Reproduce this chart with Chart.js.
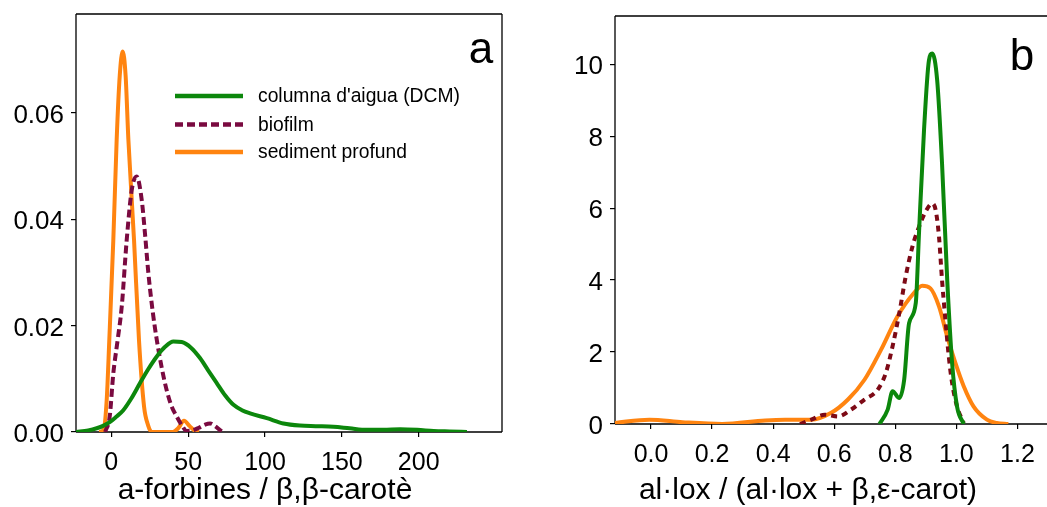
<!DOCTYPE html>
<html>
<head>
<meta charset="utf-8">
<script src="https://cdn.jsdelivr.net/npm/chart.js@4.4.1/dist/chart.umd.min.js"></script>
<style>
    html, body { margin: 0; padding: 0; background: #fff; overflow: hidden; }
    #wrap { position: relative; width: 1047px; height: 507px; }
    .panel { position: absolute; top: 0; height: 507px; }
    #panelA { left: 0; width: 520px; }
    #panelB { left: 520px; width: 527px; }
</style>
</head>
<body>
<div id="wrap">
    <div class="panel" id="panelA"><canvas id="chartA"></canvas></div>
    <div class="panel" id="panelB"><canvas id="chartB"></canvas></div>
</div>
<script>
const seriesLabels = ["columna d'aigua (DCM)", "biofilm", "sediment profund"];

// Panel a: a-forbines / b,b-carotene density
const aWaterX = [-23, -15, -9.5, -5, -0.8, 3, 7.8, 13, 18.7, 24, 29.6, 35, 40.4, 45.8, 52, 57.7, 63, 68.6, 74, 79.5, 85, 90.3, 101.2, 112, 122.8, 133, 144.5, 155, 166.2, 177, 188, 199, 209.7, 220, 231.4];
const aWaterY = [0, 0.0003, 0.0007, 0.0012, 0.0019, 0.0028, 0.0041, 0.0063, 0.0092, 0.0118, 0.0142, 0.016, 0.017, 0.0169, 0.0158, 0.0139, 0.0116, 0.0092, 0.0069, 0.0051, 0.0041, 0.0035, 0.0026, 0.0016, 0.0012, 0.0011, 0.001, 0.0007, 0.0004, 0.0004, 0.0005, 0.0004, 0.0002, 0.0001, 0];
const aBiofilmX = [-4, -1, 1.3, 4, 6.8, 10, 13.3, 16.5, 19.8, 22, 24.1, 27, 29.6, 33, 36, 39, 42.6, 46, 49, 53, 57, 61, 64.3, 68, 71, 73];
const aBiofilmY = [0, 0.003, 0.011, 0.017, 0.0236, 0.036, 0.0455, 0.048, 0.0436, 0.037, 0.0299, 0.0225, 0.0173, 0.0118, 0.0079, 0.005, 0.0029, 0.0012, 0.0002, 0.0003, 0.0008, 0.0014, 0.0016, 0.001, 0.0003, 0];
const aSedimentX = [-8, -5.2, -3, -1.3, 1.3, 3.5, 5.5, 7.4, 9.3, 11.1, 14.8, 18, 21.3, 24, 26.3, 40, 43.5, 47.3, 51, 54, 57];
const aSedimentY = [0, 0.0003, 0.006, 0.0173, 0.036, 0.055, 0.067, 0.0715, 0.067, 0.055, 0.036, 0.0173, 0.0048, 0.0012, 0, 0, 0.0007, 0.0021, 0.0011, 0.0003, 0];
const aXTicks = [0, 50, 100, 150, 200];
const aYTicks = [0, 0.02, 0.04, 0.06];

// Panel b: al-lox / (al-lox + b,e-carot) density
const bWaterX = [0.748, 0.775, 0.791, 0.813, 0.829, 0.845, 0.867, 0.878, 0.894, 0.910, 0.921, 0.937, 0.953, 0.970, 0.986, 1.002, 1.024];
const bWaterY = [0, 0.4, 0.91, 0.72, 1.23, 2.8, 3.36, 5.39, 8.17, 10.1, 10.3, 9.56, 7.24, 4.0, 1.69, 0.49, 0];
const bBiofilmX = [0.488, 0.525, 0.569, 0.612, 0.655, 0.699, 0.742, 0.769, 0.791, 0.813, 0.834, 0.856, 0.878, 0.899, 0.921, 0.932, 0.943, 0.953, 0.964, 0.975, 0.986, 1.002, 1.024];
const bBiofilmY = [0, 0.12, 0.26, 0.21, 0.4, 0.68, 0.95, 1.42, 2.16, 3.08, 4.1, 4.93, 5.49, 5.9, 6.13, 5.95, 5.21, 4.0, 2.9, 1.88, 1.14, 0.49, 0.03];
const bSedimentX = [-0.119, -0.005, 0.103, 0.233, 0.374, 0.439, 0.525, 0.590, 0.645, 0.699, 0.753, 0.807, 0.861, 0.888, 0.915, 0.943, 0.970, 0.997, 1.024, 1.056, 1.1, 1.132, 1.170];
const bSedimentY = [0.03, 0.12, 0.05, 0, 0.1, 0.12, 0.12, 0.31, 0.68, 1.23, 2.06, 2.99, 3.64, 3.84, 3.77, 3.27, 2.43, 1.69, 1.05, 0.49, 0.12, 0.03, 0];
const bXTicks = [0, 0.2, 0.4, 0.6, 0.8, 1.0, 1.2];
const bYTicks = [0, 2, 4, 6, 8, 10];

const FONT = "'Liberation Sans', Arial, Helvetica, sans-serif";
const GREEN = '#0c870c';
const ORANGE = '#ff8410';

function points(xs, ys) {
    return xs.map((x, i) => ({ x, y: ys[i] }));
}

function lineSet(label, data, color, dash) {
    return {
        label, data,
        borderColor: color,
        backgroundColor: color,
        borderWidth: 4,
        borderDash: dash || [],
        pointRadius: 0,
        showLine: true,
        fill: false,
        cubicInterpolationMode: 'monotone'
    };
}

// box around the plot area (sides: top, right, bottom, left)
function framePlugin(sides) {
    return {
        id: 'frame',
        beforeDatasetsDraw(chart) {
            const { ctx, chartArea: a } = chart;
            ctx.save();
            ctx.strokeStyle = '#000';
            ctx.lineWidth = 1.3;
            ctx.beginPath();
            if (sides.top) { ctx.moveTo(a.left, a.top); ctx.lineTo(a.right, a.top); }
            if (sides.right) { ctx.moveTo(a.right, a.top); ctx.lineTo(a.right, a.bottom); }
            if (sides.bottom) { ctx.moveTo(a.left, a.bottom); ctx.lineTo(a.right, a.bottom); }
            if (sides.left) { ctx.moveTo(a.left, a.top); ctx.lineTo(a.left, a.bottom); }
            ctx.stroke();
            ctx.restore();
        }
    };
}

// free placed texts: panel letter and axis title
function textPlugin(items) {
    return {
        id: 'texts',
        afterDraw(chart) {
            const ctx = chart.ctx;
            items.forEach(t => {
                ctx.save();
                ctx.font = t.font;
                ctx.fillStyle = '#000';
                ctx.textAlign = 'center';
                ctx.textBaseline = 'alphabetic';
                ctx.fillText(t.text, t.x, t.y);
                ctx.restore();
            });
        }
    };
}

// legend drawn inside panel a
const legendPlugin = {
    id: 'insideLegend',
    afterDatasetsDraw(chart) {
        const ctx = chart.ctx;
        const rows = [96, 124.5, 152];
        chart.data.datasets.forEach((ds, i) => {
            ctx.save();
            ctx.strokeStyle = ds.borderColor;
            ctx.lineWidth = 4.5;
            ctx.setLineDash(ds.borderDash);
            ctx.beginPath();
            ctx.moveTo(175, rows[i]);
            ctx.lineTo(243, rows[i]);
            ctx.stroke();
            ctx.setLineDash([]);
            ctx.font = '19.3px ' + FONT;
            ctx.fillStyle = '#000';
            ctx.textAlign = 'left';
            ctx.textBaseline = 'middle';
            ctx.fillText(ds.label, 258, rows[i] + 1);
            ctx.restore();
        });
    }
};

function axisScale(min, max, tickValues, fmt, fontSize, size, horizontal) {
    return {
        type: 'linear',
        min, max,
        border: { display: false },
        grid: { display: true, drawOnChartArea: false, drawTicks: true, tickLength: 5, tickColor: '#000', lineWidth: 1.2 },
        ticks: {
            color: '#000',
            font: { family: FONT, size: fontSize },
            padding: horizontal ? 11 : 7,
            labelOffset: horizontal ? 0 : 3,
            maxRotation: 0,
            autoSkip: false,
            callback: v => fmt(v)
        },
        afterBuildTicks: scale => { scale.ticks = tickValues.map(v => ({ value: v })); },
        afterFit: scale => {
            if (horizontal) scale.height = size; else scale.width = size;
            scale.paddingTop = 0;
            scale.paddingBottom = 0;
            scale.paddingLeft = 0;
            scale.paddingRight = 0;
        }
    };
}

function baseOptions(pad, scales) {
    return {
        responsive: true,
        maintainAspectRatio: false,
        animation: false,
        layout: { padding: pad },
        plugins: { legend: { display: false }, tooltip: { enabled: false } },
        scales
    };
}

new Chart(document.getElementById('chartA'), {
    type: 'scatter',
    data: {
        datasets: [
            lineSet(seriesLabels[0], points(aWaterX, aWaterY), GREEN),
            lineSet(seriesLabels[1], points(aBiofilmX, aBiofilmY), '#7a0a40', [8, 4]),
            lineSet(seriesLabels[2], points(aSedimentX, aSedimentY), ORANGE)
        ]
    },
    options: baseOptions({ top: 14, right: 18, left: 0, bottom: 0 }, {
        x: axisScale(-22.97, 254.2, aXTicks, v => String(v), 25, 75, true),
        y: axisScale(0, 0.07855, aYTicks, v => v.toFixed(2), 26, 76, false)
    }),
    plugins: [
        framePlugin({ top: true, right: true, bottom: true, left: true }),
        legendPlugin,
        textPlugin([
            { text: 'a', x: 481, y: 63, font: '44px ' + FONT },
            { text: 'a-forbines / \u03b2,\u03b2-carot\u00e8', x: 265, y: 499, font: '30px ' + FONT }
        ])
    ]
});

new Chart(document.getElementById('chartB'), {
    type: 'scatter',
    data: {
        datasets: [
            lineSet(seriesLabels[0], points(bWaterX, bWaterY), GREEN),
            lineSet(seriesLabels[1], points(bBiofilmX, bBiofilmY), '#7d0a16', [6, 5]),
            lineSet(seriesLabels[2], points(bSedimentX, bSedimentY), ORANGE)
        ]
    },
    options: baseOptions({ top: 16, right: 0, left: 0, bottom: 0 }, {
        x: axisScale(-0.1179, 1.2967, bXTicks, v => v.toFixed(1), 25, 83, true),
        y: axisScale(0, 11.34, bYTicks, v => String(v), 26, 95, false)
    }),
    plugins: [
        framePlugin({ top: true, right: false, bottom: true, left: true }),
        textPlugin([
            { text: 'b', x: 502, y: 70, font: '44px ' + FONT },
            { text: 'al\u00b7lox / (al\u00b7lox + \u03b2,\u03b5-carot)', x: 288, y: 499, font: '30px ' + FONT }
        ])
    ]
});
</script>
</body>
</html>
